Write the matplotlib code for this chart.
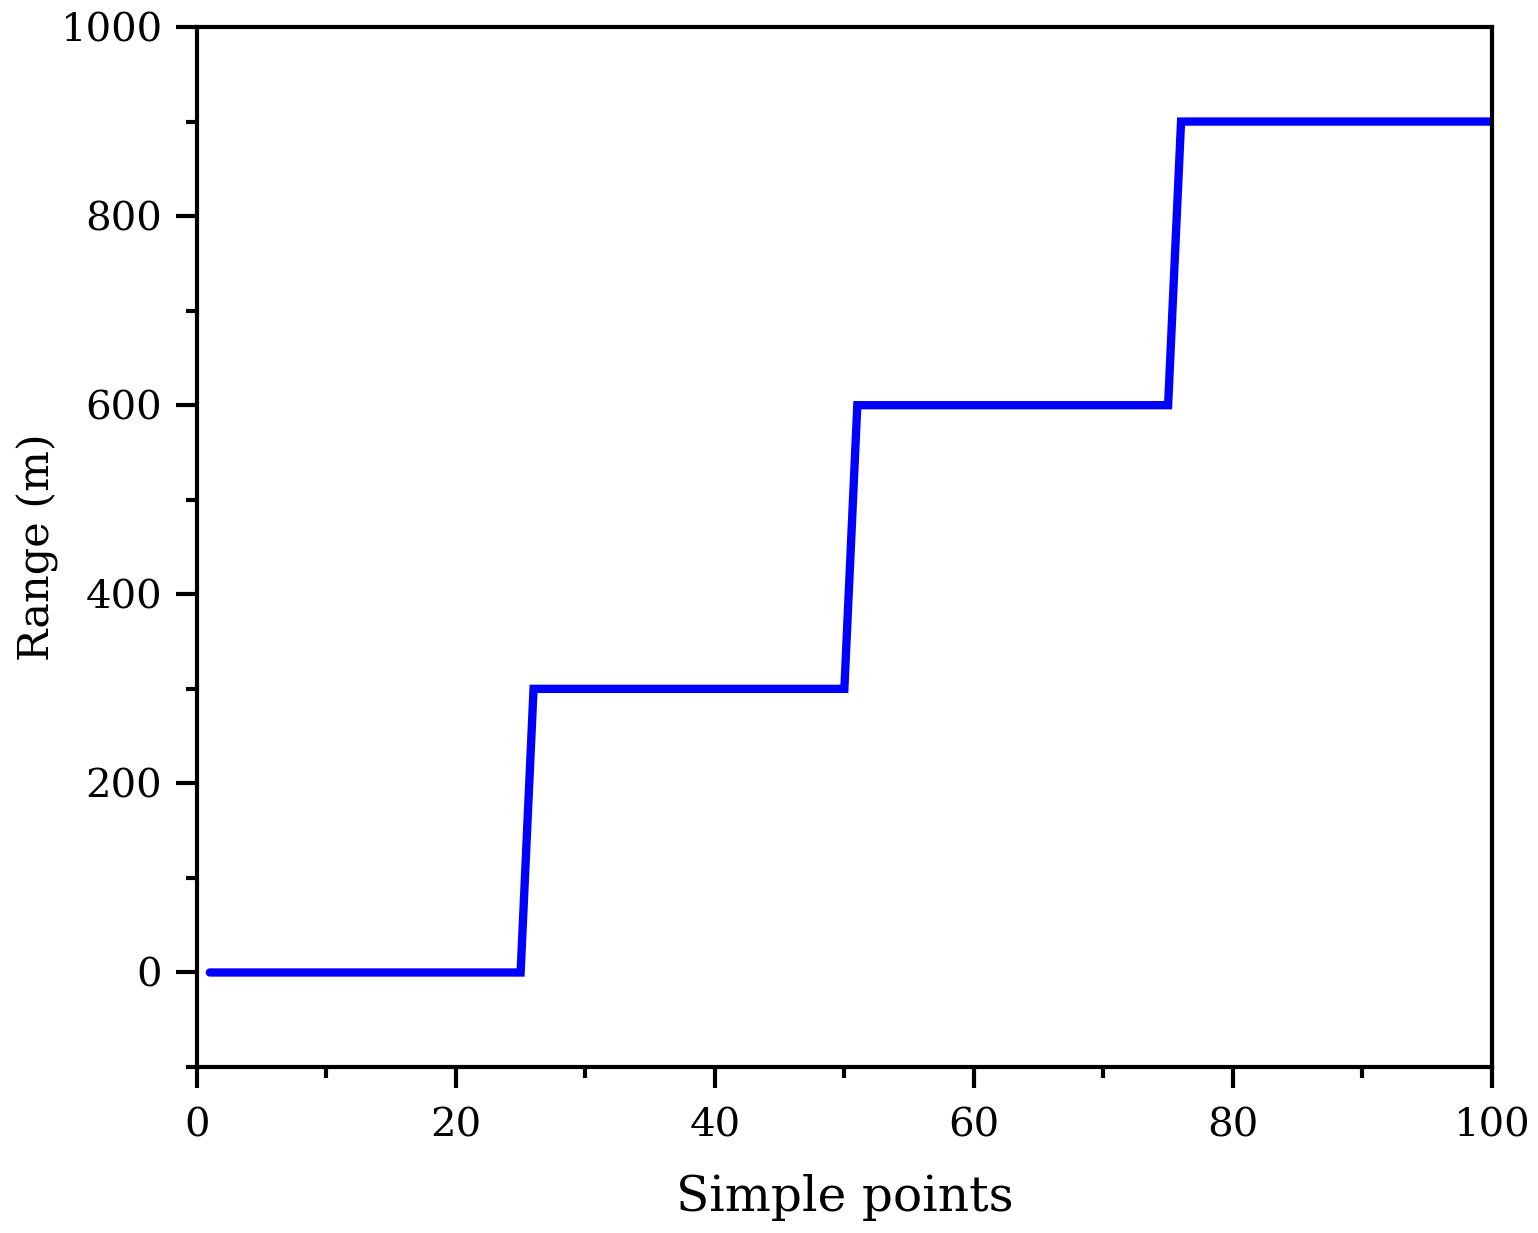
"""Step profile of range against sample points."""

import matplotlib

matplotlib.use("Agg")
import matplotlib.pyplot as plt
import numpy as np
from matplotlib.ticker import MultipleLocator

# step levels (m) and how many sample points sit on each level
step_levels = [0, 300, 600, 900]
step_counts = [25, 25, 25, 25]

sample_points = np.arange(1, sum(step_counts) + 1)
range_m = np.repeat(step_levels, step_counts)

x_ticks = [0, 20, 40, 60, 80, 100]
y_ticks = [0, 200, 400, 600, 800, 1000]

plt.rcParams["font.family"] = ["DejaVu Serif"]

fig = plt.figure(figsize=(15.38, 12.33), dpi=100)
ax = fig.add_axes([0.128, 0.1346, 0.842, 0.8435])

ax.plot(sample_points, range_m, color="#0000FF", linewidth=6,
        solid_capstyle="round", solid_joinstyle="miter")

ax.set_xlim(0, 100)
ax.set_ylim(-100, 1000)
ax.set_xticks(x_ticks)
ax.set_yticks(y_ticks)
ax.xaxis.set_minor_locator(MultipleLocator(10))
ax.yaxis.set_minor_locator(MultipleLocator(100))

for spine in ax.spines.values():
    spine.set_linewidth(3)
ax.tick_params(which="both", direction="out", width=3, top=False, right=False)
ax.tick_params(which="major", length=15, labelsize=29)
ax.tick_params(axis="x", which="major", pad=14)
ax.tick_params(axis="y", which="major", pad=10)
ax.tick_params(which="minor", length=8)

ax.set_xlabel("Simple points", fontsize=35, va="center")
ax.set_ylabel("Range (m)", fontsize=31, va="center")
ax.xaxis.set_label_coords(0.5, -0.125)
ax.yaxis.set_label_coords(-0.123, 0.5)

fig.savefig("out.png", dpi=100)
